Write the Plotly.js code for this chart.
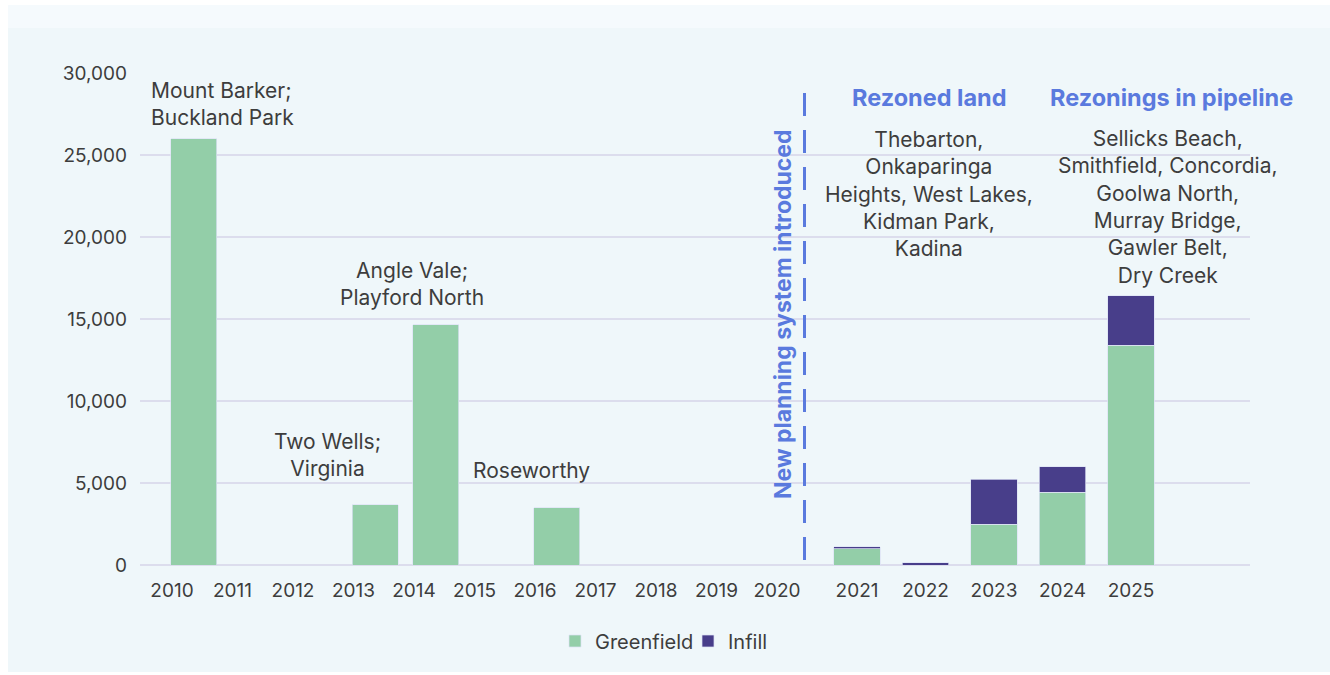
<!DOCTYPE html>
<html>
<head>
<meta charset="utf-8">
<script src="https://cdn.plot.ly/plotly-3.0.1.min.js"></script>
<style>
  html, body { margin: 0; padding: 0; background: #ffffff; width: 1330px; height: 675px; overflow: hidden; }
  #panel { position: absolute; left: 8px; top: 5px; width: 1322px; height: 667px;
           background: linear-gradient(to bottom, #f5fafd 0px, #f5fafd 23px, #eff7fa 23px, #eff7fa 100%); }
  #chart { position: absolute; left: 0; top: 0; width: 1322px; height: 667px; }
</style>
</head>
<body>
<div id="panel"><div id="chart"></div></div>
<script>
// ---- data ----
const yearsEarly = ['2010','2011','2012','2013','2014','2015','2016','2017','2018','2019','2020'];
const greenEarly = [26000, 0, 0, 3660, 14650, 0, 3500, 0, 0, 0, 0];

const yearsLate = ['2021','2022','2023','2024','2025'];
const greenLate = [1000, 0, 2500, 4430, 13400];
const infillLate = [100, 150, 2720, 1570, 3020];

const yTicks = [0, 5000, 10000, 15000, 20000, 25000, 30000];

const labelEarly = {
  mountBarker: 'Mount Barker;<br>Buckland Park',
  twoWells: 'Two Wells;<br>Virginia',
  angleVale: 'Angle Vale;<br>Playford North',
  roseworthy: 'Roseworthy'
};
const headingRezoned = 'Rezoned land';
const headingPipeline = 'Rezonings in pipeline';
const listRezoned = 'Thebarton,<br>Onkaparinga<br>Heights, West Lakes,<br>Kidman Park,<br>Kadina';
const listPipeline = 'Sellicks Beach,<br>Smithfield, Concordia,<br>Goolwa North,<br>Murray Bridge,<br>Gawler Belt,<br>Dry Creek';
const planningLabel = 'New planning system introduced';

// ---- style ----
const GREEN = '#93cea8';
const PURPLE = '#483e8a';
const BLUE = '#5a7ade';
const TEXT = '#3d3d3d';
const GRID = '#dcdded';
const FONT = 'Inter, "Noto Sans", sans-serif';

// plot area in page pixels: x 140..1250, y 73..565
const PL = 140, PR = 1250, PT = 73, PB = 565;
const X = px => (px - PL) / (PR - PL);
const Y = py => (PB - py) / (PB - PT);
const split = X(804.5);

const barLine = { color: 'rgba(220,226,244,0.9)', width: 0.8 };

const traces = [
  { type: 'bar', name: 'Greenfield', x: yearsEarly, y: greenEarly, xaxis: 'x', yaxis: 'y',
    marker: { color: GREEN, line: barLine }, width: 0.76, offset: -0.02,
    legendgroup: 'g', hoverinfo: 'x+y' },
  { type: 'bar', name: 'Greenfield', x: yearsLate, y: greenLate, xaxis: 'x2', yaxis: 'y',
    marker: { color: GREEN, line: barLine }, width: 0.68,
    legendgroup: 'g', showlegend: false, hoverinfo: 'x+y' },
  { type: 'bar', name: 'Infill', x: yearsLate, y: infillLate, xaxis: 'x2', yaxis: 'y',
    marker: { color: PURPLE, line: barLine }, width: 0.68,
    legendgroup: 'i', hoverinfo: 'x+y' }
];

const tickFont = { family: FONT, size: 19, color: TEXT };
const annFont = { family: FONT, size: 21, color: TEXT };
const headFont = { family: FONT, size: 23.5, color: BLUE, weight: 700 };

function ann(text, xp, yp, extra) {
  return Object.assign({ text: text, xref: 'paper', yref: 'paper', x: X(xp), y: Y(yp),
    xanchor: 'center', yanchor: 'middle', showarrow: false, font: annFont, align: 'center' }, extra || {});
}

const layout = {
  width: 1322, height: 667,
  margin: { l: PL - 8, r: 1330 - 8 - (PR - 8), t: PT - 5, b: 667 - (PB - 5) },
  paper_bgcolor: 'rgba(0,0,0,0)', plot_bgcolor: 'rgba(0,0,0,0)',
  barmode: 'stack',
  showlegend: true,
  legend: { orientation: 'h', x: X(688), y: Y(641), xanchor: 'center', yanchor: 'middle',
            font: { family: FONT, size: 20, color: TEXT }, itemwidth: 30, tracegroupgap: 0,
            entrywidth: 88, entrywidthmode: 'pixels',
            bgcolor: 'rgba(0,0,0,0)' },
  xaxis: { type: 'category', domain: [0, split], anchor: 'y',
           range: [(PL - 172) / 60.5, (804.5 - 172) / 60.5],
           showgrid: false, showline: false, zeroline: false, ticks: '',
           tickfont: tickFont, ticklabelstandoff: 12, fixedrange: true },
  xaxis2: { type: 'category', domain: [split, 1], anchor: 'y',
            range: [(804.5 - 857) / 68.5, (PR - 857) / 68.5],
            showgrid: false, showline: false, zeroline: false, ticks: '',
            tickfont: tickFont, ticklabelstandoff: 12, fixedrange: true },
  yaxis: { range: [0, 30000], tickvals: yTicks, tickformat: ',', tickfont: tickFont,
           showgrid: true, gridcolor: GRID, gridwidth: 1.6,
           zeroline: true, zerolinecolor: GRID, zerolinewidth: 1.6,
           showline: false, ticks: '', ticklabelstandoff: 12, fixedrange: true },
  shapes: [
    { type: 'line', xref: 'paper', yref: 'y', x0: split, x1: split, y0: 300, y1: 29100,
      line: { color: BLUE, width: 3, dash: '23px,14px' } }
  ],
  annotations: [
    ann(labelEarly.mountBarker, 149, 104, { xanchor: 'left', align: 'left' }),
    ann(labelEarly.twoWells, 327, 455),
    ann(labelEarly.angleVale, 412, 284),
    ann(labelEarly.roseworthy, 531, 470),
    ann(headingRezoned, 930, 97, { font: headFont }),
    ann(headingPipeline, 1171, 97, { font: headFont }),
    ann(listRezoned, 929, 194),
    ann(listPipeline, 1168, 207),
    ann(planningLabel, 783, 314, { textangle: -90, font: Object.assign({}, headFont, { size: 23 }) })
  ]
};

Plotly.newPlot('chart', traces, layout, { displayModeBar: false });
</script>
</body>
</html>
